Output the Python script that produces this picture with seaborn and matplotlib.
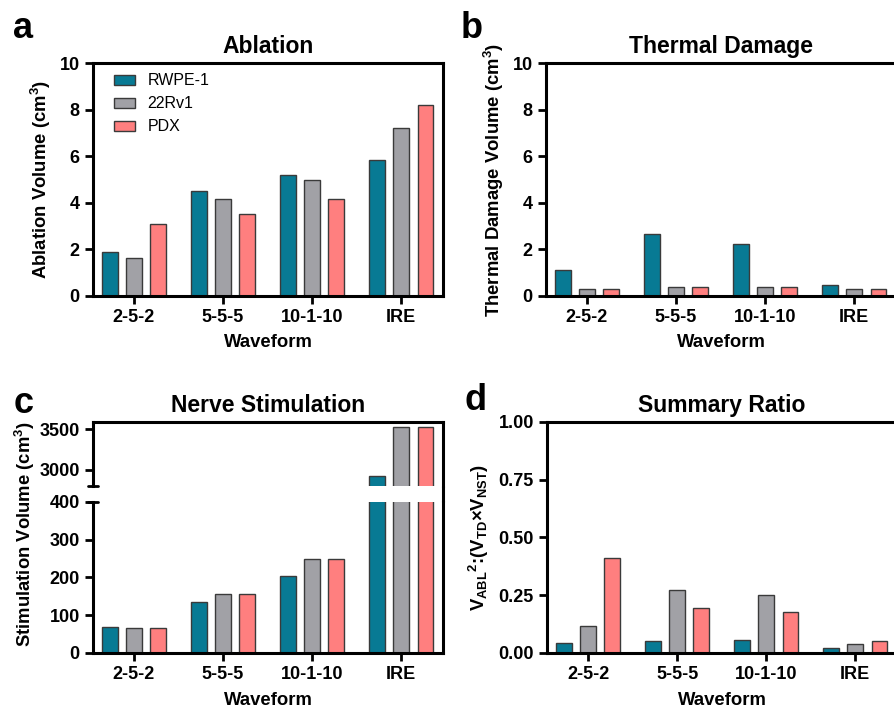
import matplotlib
matplotlib.use("Agg")
import matplotlib.pyplot as plt
from matplotlib.lines import Line2D
from matplotlib.patches import Patch
import pandas as pd
import seaborn as sns

waveforms = ["2-5-2", "5-5-5", "10-1-10", "IRE"]
cells = ["RWPE-1", "22Rv1", "PDX"]

ablation_rwpe = [1.87, 4.52, 5.18, 5.83]
ablation_22rv1 = [1.65, 4.15, 4.98, 7.20]
ablation_pdx = [3.11, 3.52, 4.16, 8.18]

thermal_rwpe = [1.10, 2.67, 2.21, 0.46]
thermal_22rv1 = [0.31, 0.37, 0.37, 0.30]
thermal_pdx = [0.31, 0.37, 0.37, 0.30]

nerve_rwpe = [69, 135, 205, 2926]
nerve_22rv1 = [66, 157, 248, 3533]
nerve_pdx = [66, 157, 248, 3533]

ratio_rwpe = [0.043, 0.053, 0.058, 0.022]
ratio_22rv1 = [0.115, 0.274, 0.253, 0.040]
ratio_pdx = [0.411, 0.196, 0.179, 0.053]

colors = ["#087a94", "#a1a1a6", "#ff7f7f"]


def long_table(a, b, c):
    rows = []
    for vals, cell in zip([a, b, c], cells):
        for w, v in zip(waveforms, vals):
            rows.append({"Waveform": w, "cell": cell, "value": v})
    return pd.DataFrame(rows)


sns.set_style("ticks")
plt.rcParams["font.family"] = ["Liberation Sans", "DejaVu Sans"]
plt.rcParams["font.weight"] = "bold"
plt.rcParams["axes.labelweight"] = "bold"
plt.rcParams["axes.titleweight"] = "bold"
plt.rcParams["text.color"] = "black"
plt.rcParams["axes.labelcolor"] = "black"
plt.rcParams["xtick.color"] = "black"
plt.rcParams["ytick.color"] = "black"
plt.rcParams["mathtext.fontset"] = "custom"
plt.rcParams["mathtext.rm"] = "Liberation Sans:bold"
plt.rcParams["mathtext.bf"] = "Liberation Sans:bold"
plt.rcParams["mathtext.it"] = "Liberation Sans:bold"
plt.rcParams["mathtext.default"] = "bf"

TICK = 13
LABEL = 13.3
TITLE = 16.5

fig = plt.figure(figsize=(8.94, 7.08), dpi=100)
ax_a = fig.add_axes([0.104, 0.582, 0.3915, 0.329])
ax_b = fig.add_axes([0.6107, 0.582, 0.3915, 0.329])
ax_c_lo = fig.add_axes([0.104, 0.0777, 0.3915, 0.2133])
ax_c_hi = fig.add_axes([0.104, 0.3136, 0.3915, 0.0904])
ax_d = fig.add_axes([0.6119, 0.0777, 0.3915, 0.3263])


def bars(ax, df):
    sns.barplot(data=df, x="Waveform", y="value", hue="cell", hue_order=cells,
                palette=colors, saturation=1, width=0.82, gap=0.35,
                edgecolor="#3a3a3a", linewidth=1.0, errorbar=None,
                legend=False, ax=ax)
    ax.set_xlim(-0.46, 3.47)
    for s in ax.spines.values():
        s.set_linewidth(2.2)
        s.set_color("black")
    ax.tick_params(axis="both", length=6, width=2, labelsize=TICK, color="black")
    for lab in ax.get_xticklabels() + ax.get_yticklabels():
        lab.set_fontweight("bold")


def finish(ax, title, ylabel):
    ax.set_title(title, fontsize=TITLE, pad=7)
    ax.set_ylabel(ylabel, fontsize=LABEL, labelpad=5)
    ax.set_xlabel("Waveform", fontsize=LABEL, labelpad=6)


# a
bars(ax_a, long_table(ablation_rwpe, ablation_22rv1, ablation_pdx))
ax_a.set_ylim(0, 10)
ax_a.set_yticks([0, 2, 4, 6, 8, 10])
finish(ax_a, "Ablation", "Ablation Volume (cm$^3$)")
handles = [Patch(facecolor=c, edgecolor="#3a3a3a", linewidth=1.0) for c in colors]
ax_a.legend(handles, cells, loc="upper left", bbox_to_anchor=(0.06, 0.955),
            frameon=False, borderaxespad=0, borderpad=0, handlelength=1.3,
            handleheight=0.65, handletextpad=0.8, labelspacing=0.5,
            prop={"size": 11.5, "weight": "normal"})

# b
bars(ax_b, long_table(thermal_rwpe, thermal_22rv1, thermal_pdx))
ax_b.set_ylim(0, 10)
ax_b.set_yticks([0, 2, 4, 6, 8, 10])
finish(ax_b, "Thermal Damage", "Thermal Damage Volume (cm$^3$)")

# c (broken axis)
nerve = long_table(nerve_rwpe, nerve_22rv1, nerve_pdx)
bars(ax_c_lo, nerve)
bars(ax_c_hi, nerve)
ax_c_lo.set_ylim(0, 400)
ax_c_lo.set_yticks([0, 100, 200, 300, 400])
ax_c_lo.spines["top"].set_visible(False)
ax_c_lo.set_xlabel("Waveform", fontsize=LABEL, labelpad=6)
ax_c_lo.set_ylabel("")
ax_c_hi.set_ylim(2800, 3590)
ax_c_hi.set_yticks([3000, 3500])
ax_c_hi.spines["bottom"].set_visible(False)
ax_c_hi.set_xticks([])
ax_c_hi.set_xlabel("")
ax_c_hi.set_ylabel("")
ax_c_hi.set_title("Nerve Stimulation", fontsize=TITLE, pad=7)
fig.text(0.028, 0.246, "Stimulation Volume (cm$^3$)", rotation=90, fontsize=LABEL,
         fontweight="bold", ha="center", va="center")
# break caps on the left spine and continuous right spine
ax_c_hi.plot([-0.013, 0.013], [0, 0], color="black", lw=2, transform=ax_c_hi.transAxes, clip_on=False)
ax_c_lo.plot([-0.013, 0.013], [1, 1], color="black", lw=2, transform=ax_c_lo.transAxes, clip_on=False)
x_r = 0.104 + 0.3915
fig.add_artist(Line2D([x_r, x_r], [0.0777 + 0.2133, 0.3136], color="black", lw=2.2,
                      transform=fig.transFigure))

# d
bars(ax_d, long_table(ratio_rwpe, ratio_22rv1, ratio_pdx))
ax_d.set_ylim(0, 1)
ax_d.set_yticks([0, 0.25, 0.5, 0.75, 1.0])
ax_d.set_yticklabels(["0.00", "0.25", "0.50", "0.75", "1.00"], fontweight="bold")
finish(ax_d, "Summary Ratio", "V$_{ABL}$$^{2}$:(V$_{TD}$×V$_{NST}$)")

# panel letters
for x, y, s in [(0.015, 0.96, "a"), (0.515, 0.96, "b"), (0.015, 0.43, "c"), (0.52, 0.435, "d")]:
    fig.text(x, y, s, fontsize=26, fontweight="bold", va="center")

fig.savefig("out.png", dpi=100)
